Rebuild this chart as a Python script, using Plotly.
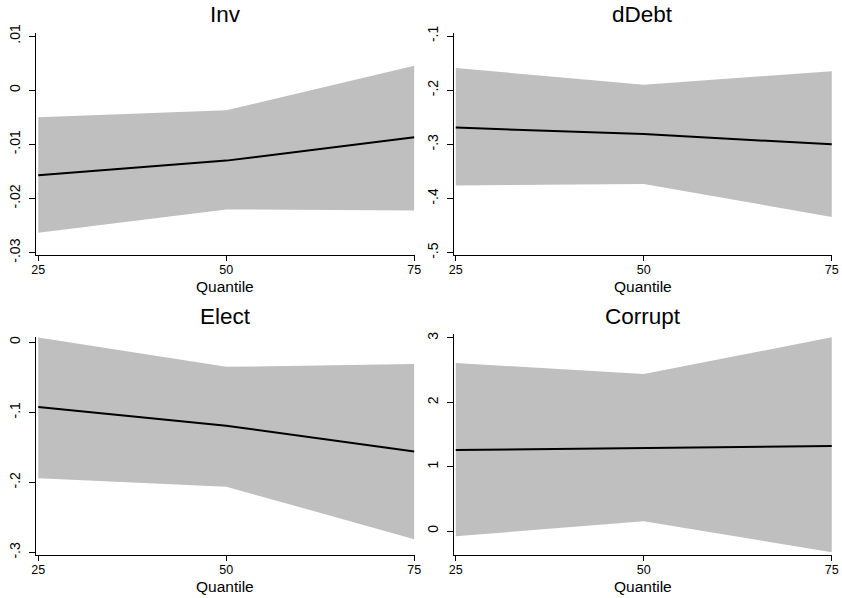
import plotly.graph_objects as go

quantiles = [25, 50, 75]
titles = ["Inv", "dDebt", "Elect", "Corrupt"]

inv_est = [-0.0157, -0.0130, -0.0087]
inv_lo = [-0.0263, -0.0220, -0.0222]
inv_hi = [-0.0050, -0.0037, 0.0045]

ddebt_est = [-0.269, -0.281, -0.300]
ddebt_lo = [-0.376, -0.373, -0.434]
ddebt_hi = [-0.159, -0.190, -0.165]

elect_est = [-0.0925, -0.119, -0.156]
elect_lo = [-0.194, -0.206, -0.281]
elect_hi = [0.007, -0.035, -0.031]

corrupt_est = [1.26, 1.29, 1.32]
corrupt_lo = [-0.08, 0.15, -0.33]
corrupt_hi = [2.61, 2.44, 3.01]

inv_ticks = [0.01, 0, -0.01, -0.02, -0.03]
inv_ticktext = [".01", "0", "-.01", "-.02", "-.03"]
ddebt_ticks = [-0.1, -0.2, -0.3, -0.4, -0.5]
ddebt_ticktext = ["-.1", "-.2", "-.3", "-.4", "-.5"]
elect_ticks = [0, -0.1, -0.2, -0.3]
elect_ticktext = ["0", "-.1", "-.2", "-.3"]
corrupt_ticks = [3, 2, 1, 0]
corrupt_ticktext = ["3", "2", "1", "0"]
x_ticktext = ["25", "50", "75"]

W, H = 842, 598
FONT = "Liberation Sans, Arial, Helvetica, sans-serif"
FILL = "rgb(191,191,191)"
XR = [24.7, 75.05]
PXU = 7.52  # px per quantile unit

panels = [
    (inv_est, inv_lo, inv_hi, inv_ticks, inv_ticktext, [-0.03042, 0.0105], 36.0, (33.3, 255), 15),
    (ddebt_est, ddebt_lo, ddebt_hi, ddebt_ticks, ddebt_ticktext, [-0.5042, -0.095], 453.5, (33.3, 255), 15),
    (elect_est, elect_lo, elect_hi, elect_ticks, elect_ticktext, [-0.3036, 0.0076], 36.0, (337, 555), 316),
    (corrupt_est, corrupt_lo, corrupt_hi, corrupt_ticks, corrupt_ticktext, [-0.373, 3.062], 453.5, (334, 555), 316),
]

fig = go.Figure()
layout = dict(
    width=W, height=H,
    margin=dict(l=0, r=0, t=0, b=0),
    paper_bgcolor="white", plot_bgcolor="white",
    showlegend=False,
    font=dict(family=FONT, color="black"),
)
annotations = []
for i, (est, lo, hi, yt, ytt, yr, x0, ypx, ty) in enumerate(panels):
    n = i + 1
    xa = "x" if n == 1 else f"x{n}"
    ya = "y" if n == 1 else f"y{n}"
    fig.add_trace(go.Scatter(x=quantiles, y=lo, mode="lines", line=dict(width=0, color=FILL),
                             xaxis=xa, yaxis=ya, hoverinfo="skip"))
    fig.add_trace(go.Scatter(x=quantiles, y=hi, mode="lines", line=dict(width=0, color=FILL),
                             fill="tonexty", fillcolor=FILL, xaxis=xa, yaxis=ya, hoverinfo="skip"))
    fig.add_trace(go.Scatter(x=quantiles, y=est, mode="lines", line=dict(width=2, color="black"),
                             xaxis=xa, yaxis=ya))
    x1 = x0 + (XR[1] - XR[0]) * PXU
    xkey = "xaxis" if n == 1 else f"xaxis{n}"
    ykey = "yaxis" if n == 1 else f"yaxis{n}"
    layout[xkey] = dict(
        domain=[x0 / W, x1 / W], anchor=ya, range=XR,
        tickvals=quantiles, ticktext=x_ticktext, ticks="outside", ticklen=5, tickwidth=1,
        tickcolor="black", showline=True, linecolor="black", linewidth=1,
        showgrid=False, zeroline=False, automargin=False, tickfont=dict(size=12.5),
        ticklabelstandoff=-2,
    )
    layout[ykey] = dict(
        domain=[1 - ypx[1] / H, 1 - ypx[0] / H], anchor=xa, range=yr,
        tickvals=yt, ticktext=ytt, ticks="outside", ticklen=6, tickwidth=1,
        tickcolor="black", showline=True, linecolor="black", linewidth=1,
        showgrid=False, zeroline=False, automargin=False, tickangle=-90,
        tickfont=dict(size=14), ticklabelstandoff=3,
    )
    cx = (x0 + x1) / 2 / W
    annotations.append(dict(text=titles[i], x=cx, y=1 - ty / H, xref="paper", yref="paper",
                            xanchor="center", yanchor="middle", showarrow=False,
                            font=dict(size=22.5, family=FONT, color="black")))
    annotations.append(dict(text="Quantile", x=cx, y=1 - (ypx[1] + 31) / H, xref="paper", yref="paper",
                            xanchor="center", yanchor="middle", showarrow=False,
                            font=dict(size=15.5, family=FONT, color="black")))

layout["annotations"] = annotations
fig.update_layout(**layout)
fig.write_html("out.html", config={"displayModeBar": False},
               post_script="document.body.style.margin='0px';document.body.style.overflow='hidden';")
